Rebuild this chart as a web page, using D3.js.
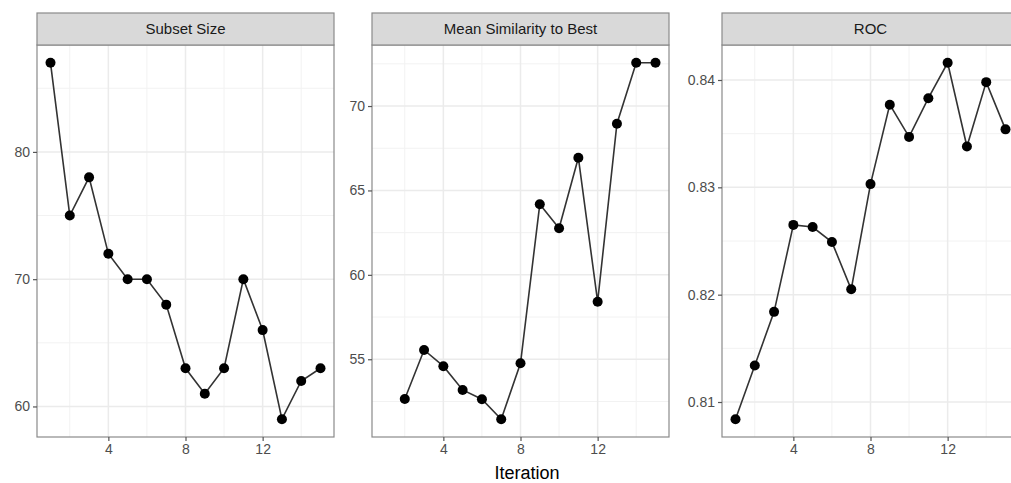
<!DOCTYPE html>
<html>
<head>
<meta charset="utf-8">
<script src="https://cdn.jsdelivr.net/npm/d3@7"></script>
<style>
  body { margin: 0; background: #fff; }
  text { font-family: "Liberation Sans", Arial, sans-serif; }
</style>
</head>
<body>
<div id="chart"></div>
<script>
var iterations = [1, 2, 3, 4, 5, 6, 7, 8, 9, 10, 11, 12, 13, 14, 15];
var subsetSize = [87, 75, 78, 72, 70, 70, 68, 63, 61, 63, 70, 66, 59, 62, 63];
var similarity = [null, 52.65, 55.55, 54.59, 53.18, 52.63, 51.45, 54.76, 64.18, 62.76, 66.94, 58.41, 68.95, 72.56, 72.56];
var roc = [0.8084, 0.8134, 0.8184, 0.8265, 0.8263, 0.8249, 0.8205, 0.8303, 0.8377, 0.8347, 0.8383, 0.8416, 0.8338, 0.8398, 0.8354];

var panelTitles = ["Subset Size", "Mean Similarity to Best", "ROC"];
var xTicks = [4, 8, 12];
var xMinor = [2, 6, 10, 14];
var yTicks = [[60, 70, 80], [55, 60, 65, 70], [0.81, 0.82, 0.83, 0.84]];
var yMinor = [[65, 75, 85], [52.5, 57.5, 62.5, 67.5, 72.5], [0.805, 0.815, 0.825, 0.835]];
var xTitle = "Iteration";

function init() {
  var w = 1011;
  var h = 483;
  var panelLefts = [37, 372, 722];
  var panelW = 297;
  var stripTop = 13;
  var top = 45;
  var bottom = 437;

  var series = [subsetSize, similarity, roc];
  var formats = [d3.format("d"), d3.format("d"), d3.format(".2f")];

  var svg = d3.select("#chart")
    .append("svg")
    .attr("width", w)
    .attr("height", h);

  series.forEach(function (vals, p) {
    var left = panelLefts[p];
    var data = iterations.map(function (it, i) {
      return [it, vals[i]];
    }).filter(function (d) { return d[1] != null; });

    var xScale = d3.scaleLinear()
      .domain([0.3, 15.7])
      .range([left, left + panelW]);

    var ext = d3.extent(data, function (d) { return d[1]; });
    var pad = (ext[1] - ext[0]) * 0.05;
    var yScale = d3.scaleLinear()
      .domain([ext[0] - pad, ext[1] + pad])
      .range([bottom, top]);

    var g = svg.append("g");

    // minor grid
    g.selectAll(".xminor")
      .data(xMinor)
      .enter()
      .append("line")
      .attr("x1", function (d) { return xScale(d); })
      .attr("x2", function (d) { return xScale(d); })
      .attr("y1", top)
      .attr("y2", bottom)
      .attr("stroke", "#f2f2f2")
      .attr("stroke-width", 1);
    g.selectAll(".yminor")
      .data(yMinor[p].filter(function (d) { return d >= yScale.domain()[0] && d <= yScale.domain()[1]; }))
      .enter()
      .append("line")
      .attr("x1", left)
      .attr("x2", left + panelW)
      .attr("y1", function (d) { return yScale(d); })
      .attr("y2", function (d) { return yScale(d); })
      .attr("stroke", "#f2f2f2")
      .attr("stroke-width", 1);

    // major grid
    g.selectAll(".xmajor")
      .data(xTicks)
      .enter()
      .append("line")
      .attr("x1", function (d) { return xScale(d); })
      .attr("x2", function (d) { return xScale(d); })
      .attr("y1", top)
      .attr("y2", bottom)
      .attr("stroke", "#ebebeb")
      .attr("stroke-width", 1.5);
    g.selectAll(".ymajor")
      .data(yTicks[p])
      .enter()
      .append("line")
      .attr("x1", left)
      .attr("x2", left + panelW)
      .attr("y1", function (d) { return yScale(d); })
      .attr("y2", function (d) { return yScale(d); })
      .attr("stroke", "#ebebeb")
      .attr("stroke-width", 1.5);

    // line + points
    var line = d3.line()
      .x(function (d) { return xScale(d[0]); })
      .y(function (d) { return yScale(d[1]); });
    g.append("path")
      .datum(data)
      .attr("d", line)
      .attr("fill", "none")
      .attr("stroke", "#333")
      .attr("stroke-width", 1.6);
    g.selectAll("circle")
      .data(data)
      .enter()
      .append("circle")
      .attr("cx", function (d) { return xScale(d[0]); })
      .attr("cy", function (d) { return yScale(d[1]); })
      .attr("r", 5)
      .attr("fill", "black");

    // panel border
    g.append("rect")
      .attr("x", left)
      .attr("y", top)
      .attr("width", panelW)
      .attr("height", bottom - top)
      .attr("fill", "none")
      .attr("stroke", "#8a8a8a")
      .attr("stroke-width", 1.2);

    // strip
    g.append("rect")
      .attr("x", left)
      .attr("y", stripTop)
      .attr("width", panelW)
      .attr("height", top - stripTop)
      .attr("fill", "#d9d9d9")
      .attr("stroke", "#8a8a8a")
      .attr("stroke-width", 1.2);
    g.append("text")
      .attr("x", left + panelW / 2)
      .attr("y", (stripTop + top) / 2 + 5)
      .attr("text-anchor", "middle")
      .attr("font-size", 15)
      .attr("fill", "#1a1a1a")
      .text(panelTitles[p]);

    // axes
    var xAxis = d3.axisBottom(xScale)
      .tickValues(xTicks)
      .tickSize(4)
      .tickPadding(3);
    var yAxis = d3.axisLeft(yScale)
      .tickValues(yTicks[p])
      .tickFormat(formats[p])
      .tickSize(4)
      .tickPadding(3);

    var xg = svg.append("g")
      .attr("transform", "translate(0," + bottom + ")")
      .call(xAxis);
    var yg = svg.append("g")
      .attr("transform", "translate(" + left + ",0)")
      .call(yAxis);
    [xg, yg].forEach(function (a) {
      a.select(".domain").remove();
      a.selectAll(".tick line").attr("stroke", "#555").attr("stroke-width", 1.2);
      a.selectAll(".tick text")
        .attr("fill", "#4d4d4d")
        .attr("font-size", 14)
        .attr("font-family", "Liberation Sans, Arial, sans-serif");
    });
  });

  svg.append("text")
    .attr("x", 527)
    .attr("y", 479)
    .attr("text-anchor", "middle")
    .attr("font-size", 18)
    .attr("fill", "#000")
    .text(xTitle);
}

window.onload = init;
</script>
</body>
</html>
